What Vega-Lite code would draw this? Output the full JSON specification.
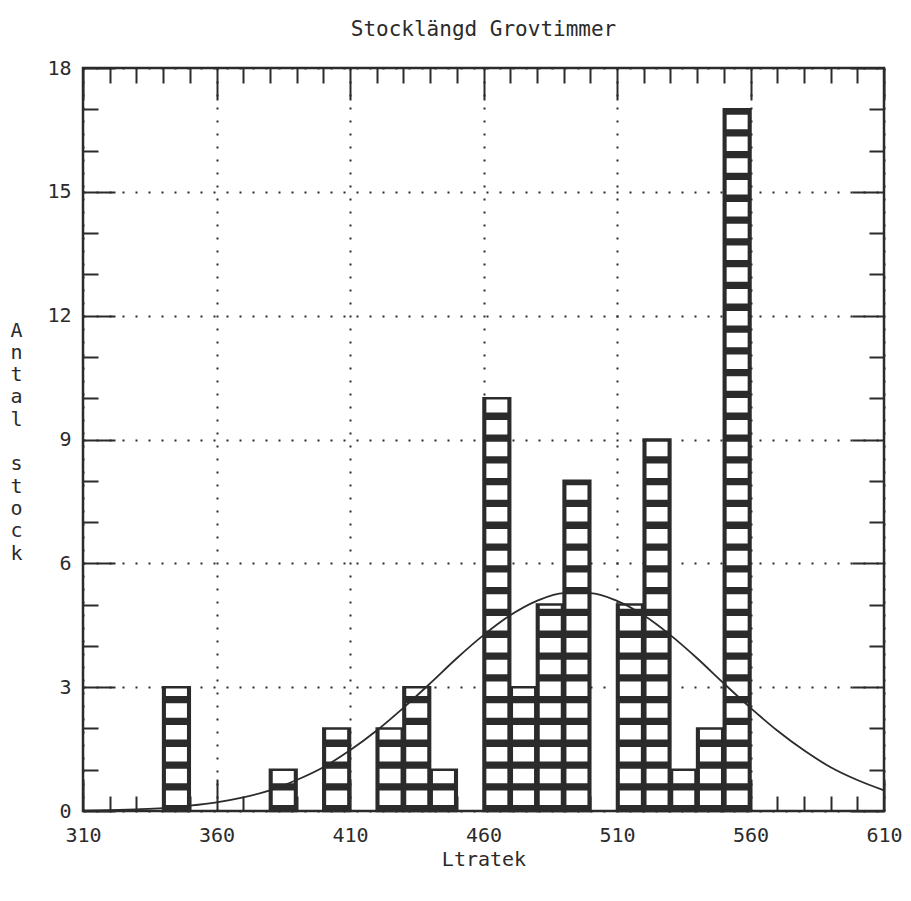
{
  "$schema": "https://vega.github.io/schema/vega-lite/v6.json",
  "width": 801,
  "height": 743,
  "autosize": {"type": "none"},
  "padding": {"left": 83, "top": 68, "right": 27, "bottom": 90},
  "background": "white",
  "title": {
    "text": "Stocklängd Grovtimmer",
    "font": "DejaVu Sans Mono",
    "fontSize": 21,
    "fontWeight": "normal",
    "color": "#2b2b2b",
    "anchor": "middle",
    "baseline": "alphabetic",
    "offset": 1
  },
  "config": {
    "view": {"stroke": "#2b2b2b", "strokeWidth": 2.5},
    "axis": {
      "domain": false,
      "labelFont": "DejaVu Sans Mono",
      "labelFontSize": 20,
      "labelColor": "#2b2b2b",
      "titleFont": "DejaVu Sans Mono",
      "titleFontSize": 20,
      "titleFontWeight": "normal",
      "titleColor": "#2b2b2b",
      "tickColor": "#2b2b2b",
      "tickWidth": 2,
      "gridColor": "#2b2b2b",
      "gridDash": [2, 11],
      "gridWidth": 2,
      "gridOpacity": 1
    }
  },
  "datasets": {
    "bins": [
      {"lo": 340, "hi": 350, "mid": 345, "base": 0, "n": 3},
      {"lo": 380, "hi": 390, "mid": 385, "base": 0, "n": 1},
      {"lo": 400, "hi": 410, "mid": 405, "base": 0, "n": 2},
      {"lo": 420, "hi": 430, "mid": 425, "base": 0, "n": 2},
      {"lo": 430, "hi": 440, "mid": 435, "base": 0, "n": 3},
      {"lo": 440, "hi": 450, "mid": 445, "base": 0, "n": 1},
      {"lo": 460, "hi": 470, "mid": 465, "base": 0, "n": 10},
      {"lo": 470, "hi": 480, "mid": 475, "base": 0, "n": 3},
      {"lo": 480, "hi": 490, "mid": 485, "base": 0, "n": 5},
      {"lo": 490, "hi": 500, "mid": 495, "base": 0, "n": 8},
      {"lo": 510, "hi": 520, "mid": 515, "base": 0, "n": 5},
      {"lo": 520, "hi": 530, "mid": 525, "base": 0, "n": 9},
      {"lo": 530, "hi": 540, "mid": 535, "base": 0, "n": 1},
      {"lo": 540, "hi": 550, "mid": 545, "base": 0, "n": 2},
      {"lo": 550, "hi": 560, "mid": 555, "base": 0, "n": 17}
    ],
    "curve": [
      {"x": 310, "y": 0.01}, {"x": 320, "y": 0.02}, {"x": 330, "y": 0.04},
      {"x": 340, "y": 0.07}, {"x": 350, "y": 0.13}, {"x": 360, "y": 0.21},
      {"x": 370, "y": 0.33}, {"x": 380, "y": 0.5}, {"x": 390, "y": 0.75},
      {"x": 400, "y": 1.06}, {"x": 410, "y": 1.47}, {"x": 420, "y": 1.95},
      {"x": 430, "y": 2.5}, {"x": 440, "y": 3.09}, {"x": 450, "y": 3.7},
      {"x": 460, "y": 4.26}, {"x": 470, "y": 4.74}, {"x": 480, "y": 5.09},
      {"x": 490, "y": 5.28}, {"x": 500, "y": 5.28}, {"x": 510, "y": 5.09},
      {"x": 520, "y": 4.74}, {"x": 530, "y": 4.26}, {"x": 540, "y": 3.7},
      {"x": 550, "y": 3.09}, {"x": 560, "y": 2.5}, {"x": 570, "y": 1.95},
      {"x": 580, "y": 1.47}, {"x": 590, "y": 1.06}, {"x": 600, "y": 0.75},
      {"x": 610, "y": 0.5}
    ]
  },
  "resolve": {"axis": {"x": "independent", "y": "independent"}},
  "layer": [
    {
      "data": {"name": "bins"},
      "mark": {"type": "rect", "color": "#2b2b2b"},
      "encoding": {
        "x": {
          "field": "lo", "type": "quantitative",
          "scale": {"domain": [310, 610], "nice": false, "zero": false},
          "axis": {
            "orient": "bottom",
            "values": [310, 360, 410, 460, 510, 560, 610],
            "tickSize": -32,
            "grid": true,
            "labelPadding": 46,
            "labelFlush": false,
            "labelOverlap": false,
            "format": "d",
            "title": "Ltratek",
            "titleBaseline": "middle",
            "titleY": 48
          }
        },
        "x2": {"field": "hi"},
        "y": {
          "field": "n", "type": "quantitative",
          "scale": {"domain": [0, 18], "nice": false},
          "axis": {
            "orient": "left",
            "values": [0, 3, 6, 9, 12, 15, 18],
            "tickSize": -32,
            "grid": true,
            "labelPadding": 44,
            "labelFlush": false,
            "labelOverlap": false,
            "format": "d",
            "title": ["A", "n", "t", "a", "l", "\u200b", "s", "t", "o", "c", "k"],
            "titleAngle": 0,
            "titleAlign": "center",
            "titleBaseline": "top",
            "titleLineHeight": 22.3,
            "titleX": -67,
            "titleY": 252
          }
        },
        "y2": {"field": "base"}
      }
    },
    {
      "data": {"name": "bins"},
      "mark": {"type": "rule", "color": "white", "strokeWidth": 21, "strokeDash": [14.5, 7.3], "strokeDashOffset": 15.8, "strokeCap": "butt"},
      "encoding": {
        "x": {
          "field": "mid", "type": "quantitative",
          "axis": {
            "orient": "bottom",
            "values": [320, 330, 340, 350, 370, 380, 390, 400, 420, 430, 440, 450, 470, 480, 490, 500, 520, 530, 540, 550, 570, 580, 590, 600],
            "tickSize": -15, "labels": false, "grid": false, "title": null
          }
        },
        "y": {
          "field": "base", "type": "quantitative",
          "axis": {
            "orient": "left",
            "values": [1, 2, 4, 5, 7, 8, 10, 11, 13, 14, 16, 17],
            "tickSize": -15, "labels": false, "grid": false, "title": null
          }
        },
        "y2": {"field": "n"}
      }
    },
    {
      "data": {"name": "bins"},
      "mark": {"type": "rect", "filled": false, "stroke": "#2b2b2b", "strokeWidth": 2.5},
      "encoding": {
        "x": {
          "field": "lo", "type": "quantitative",
          "axis": {
            "orient": "top",
            "values": [310, 360, 410, 460, 510, 560, 610],
            "tickSize": -32, "labels": false, "grid": false, "title": null
          }
        },
        "x2": {"field": "hi"},
        "y": {
          "field": "n", "type": "quantitative",
          "axis": {
            "orient": "right",
            "values": [0, 3, 6, 9, 12, 15, 18],
            "tickSize": -32, "labels": false, "grid": false, "title": null
          }
        },
        "y2": {"field": "base"}
      }
    },
    {
      "data": {"name": "curve"},
      "mark": {"type": "line", "color": "#2b2b2b", "strokeWidth": 1.8, "interpolate": "monotone"},
      "encoding": {
        "x": {
          "field": "x", "type": "quantitative",
          "axis": {
            "orient": "top",
            "values": [320, 330, 340, 350, 370, 380, 390, 400, 420, 430, 440, 450, 470, 480, 490, 500, 520, 530, 540, 550, 570, 580, 590, 600],
            "tickSize": -15, "labels": false, "grid": false, "title": null
          }
        },
        "y": {
          "field": "y", "type": "quantitative",
          "axis": {
            "orient": "right",
            "values": [1, 2, 4, 5, 7, 8, 10, 11, 13, 14, 16, 17],
            "tickSize": -15, "labels": false, "grid": false, "title": null
          }
        }
      }
    }
  ]
}
